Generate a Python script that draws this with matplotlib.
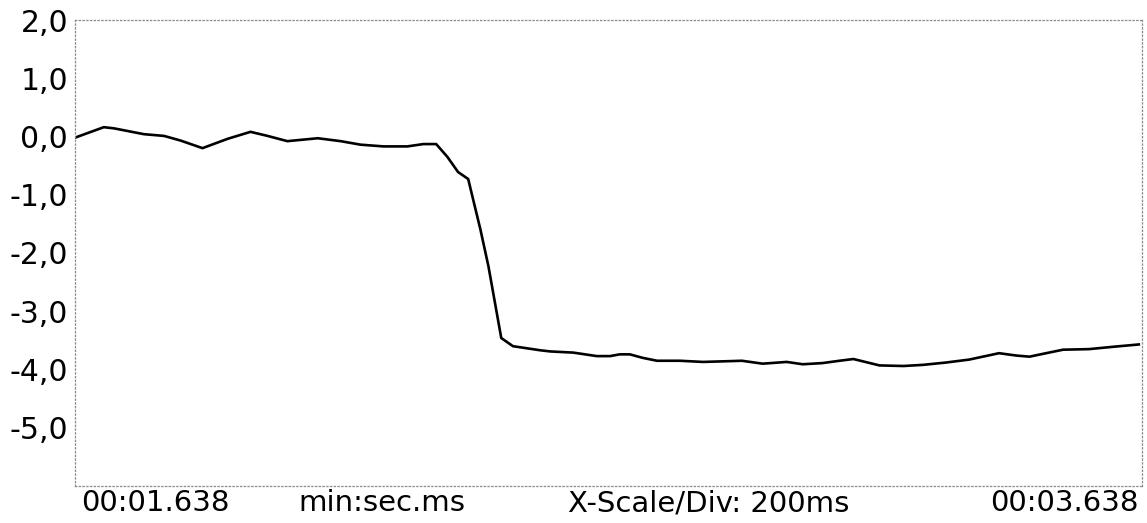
import matplotlib
matplotlib.use("Agg")
import matplotlib.pyplot as plt
from matplotlib.ticker import FixedLocator, FuncFormatter

# Recorded trace: time offset from window start (ms) and signal level
time_ms = [0, 54, 73, 129, 167, 198, 239, 286, 329, 361, 398, 455, 498, 535,
           578, 623, 653, 677, 698, 718, 737, 760, 775, 799, 821, 872, 891,
           934, 978, 1003, 1021, 1040, 1064, 1091, 1134, 1177, 1214, 1250,
           1289, 1334, 1364, 1401, 1433, 1459, 1508, 1553, 1590, 1633, 1676,
           1732, 1764, 1789, 1815, 1852, 1901, 1946, 1994]
signal = [-0.02, 0.16, 0.14, 0.04, 0.01, -0.07, -0.20, -0.04, 0.08, 0.01,
          -0.08, -0.03, -0.08, -0.14, -0.17, -0.17, -0.13, -0.13, -0.35,
          -0.61, -0.73, -1.60, -2.23, -3.46, -3.60, -3.67, -3.69, -3.71,
          -3.77, -3.77, -3.74, -3.74, -3.80, -3.85, -3.85, -3.87, -3.86,
          -3.85, -3.90, -3.87, -3.91, -3.89, -3.85, -3.82, -3.93, -3.94,
          -3.92, -3.88, -3.83, -3.72, -3.76, -3.78, -3.73, -3.66, -3.65,
          -3.61, -3.57]

y_ticks = [2, 1, 0, -1, -2, -3, -4, -5]
window_ms = 2000
start_label = "00:01.638"
end_label = "00:03.638"
unit_label = "min:sec.ms"
scale_label = "X-Scale/Div: 200ms"

W, H = 1147, 523
fig = plt.figure(figsize=(W / 100, H / 100), dpi=100)
fig.patch.set_facecolor("white")

left, right, top, bottom = 75, 1142, 20, 486
ax = fig.add_axes([left / W, 1 - bottom / H, (right - left) / W, (bottom - top) / H])

ax.plot(time_ms, signal, color="black", linewidth=1.9, solid_joinstyle="round")

ax.set_xlim(0, window_ms)
ax.set_ylim(-6, 2)
ax.set_xticks([])
ax.yaxis.set_major_locator(FixedLocator(y_ticks))
ax.yaxis.set_major_formatter(FuncFormatter(lambda v, _: f"{v:.1f}".replace(".", ",")))
ax.tick_params(axis="y", length=0, pad=5, labelsize=21.5, labelcolor="black")

for name, spine in ax.spines.items():
    spine.set_color("#8a8a8a")
    spine.set_linewidth(0.9)
    spine.set_linestyle((0, (1, 2)))

ty = 1 - 503 / H
fs = 21
fig.text(81 / W, ty, start_label, ha="left", va="center", fontsize=fs)
fig.text(298 / W, ty, unit_label, ha="left", va="center", fontsize=fs)
fig.text(568 / W, ty, scale_label, ha="left", va="center", fontsize=fs)
fig.text(1139 / W, ty, end_label, ha="right", va="center", fontsize=fs)

fig.savefig("out.png", dpi=100, facecolor="white")
